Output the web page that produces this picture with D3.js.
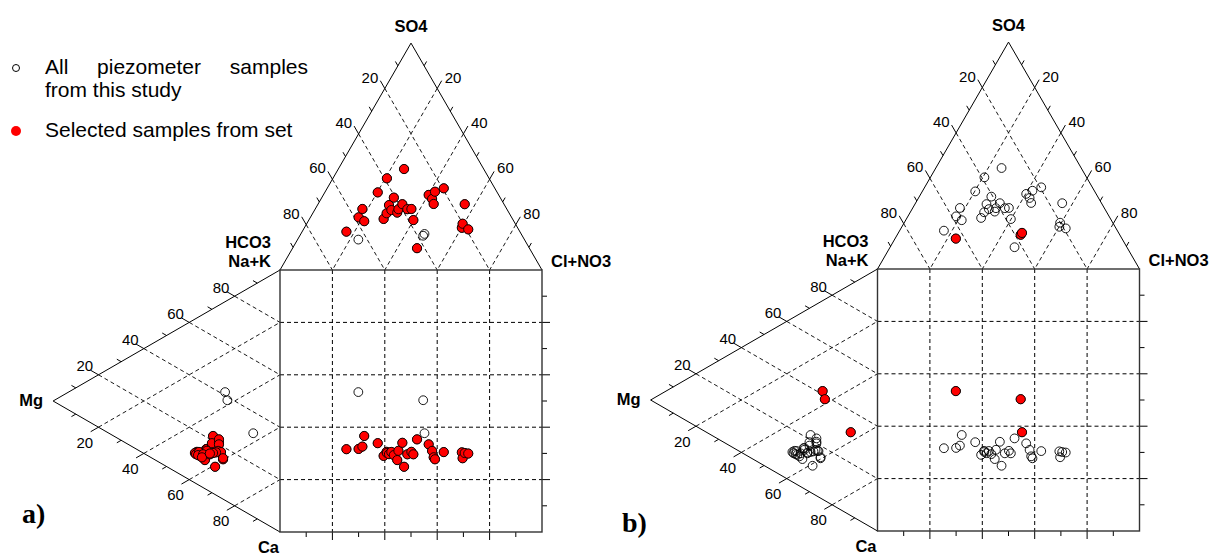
<!DOCTYPE html>
<html>
<head>
<meta charset="utf-8">
<script src="https://cdn.jsdelivr.net/npm/d3@7"></script>
<style>
  body { margin: 0; background: #fff; }
  svg { display: block; }
</style>
</head>
<body>
<svg id="chart" width="1211" height="557"></svg>
<script>
// sample chemistry in % meq/l
// anions: SO4, Cl+NO3 (HCO3 = rest) ; cations: Mg, Ca (Na+K = rest)
const so4   = [16.9, 23.2, 26.9, 21.5, 34.2, 22.5, 25.0, 40.4, 28.6, 26.4, 31.9, 25.3, 26.8, 29.0, 44.5, 26.8, 26.9, 22.0, 9.6, 33.1, 31.3, 29.1, 34.5, 36.0, 18.6, 20.4, 29.0, 17.9, 13.4, 15.1, 15.9];
const clno3 = [16.9, 18.4, 18.0, 21.4, 20.2, 28.3, 28.2, 20.6, 27.3, 29.3, 27.5, 32.1, 31.8, 32.2, 25.1, 35.2, 36.7, 39.9, 47.5, 40.2, 42.4, 44.1, 41.9, 44.5, 60.1, 59.5, 56.0, 62.9, 23.2, 47.1, 47.2];
const mg    = [32.6, 32.2, 30.0, 29.5, 30.0, 35.3, 36.6, 37.5, 37.0, 35.7, 36.1, 33.1, 32.2, 26.9, 28.6, 30.9, 26.4, 33.9, 26.9, 26.9, 27.3, 34.4, 25.1, 26.0, 28.2, 25.1, 29.5, 30.9, 24.2, 23.2, 11.8];
const ca    = [52.1, 52.2, 52.4, 48.6, 51.1, 53.3, 51.1, 51.1, 51.8, 51.6, 52.6, 56.0, 52.9, 52.5, 60.8, 54.9, 56.2, 53.4, 51.2, 53.1, 55.4, 54.3, 59.7, 56.5, 55.5, 59.3, 55.1, 54.6, 34.5, 38.1, 56.4];
// which set the sample belongs to (1 = highlighted in a, 2 = highlighted in b)
const group = [1,1,1,1,1,1,1,1,1,1,1,1,1,1,1,1,1,1,1,1,1,1,1,1,1,1,1,1, 2,2,2];

const gridTicks  = [20, 40, 60, 80];
const minorTicks = [10, 30, 50, 70, 90];
const legendLabels = ["All piezometer samples", "from this study", "Selected samples from set"];

const samples = so4.map((d, i) => ({so4: d, cl: clno3[i], mg: mg[i], ca: ca[i], group: group[i]}));

const panels = [
  {label: "a)", x0: 280,   y0: 270, side: 262, selected: 1, lx: 22, ly: 523},
  {label: "b)", x0: 877.5, y0: 269, side: 262, selected: 2, lx: 622, ly: 532}
];

const svg = d3.select("#chart");
svg.append("rect").attr("width", 1211).attr("height", 557).attr("fill", "#fff");

const sans = "'Liberation Sans', Arial, Helvetica, sans-serif";
const dash = "4,3";

function drawPanel(p) {
  const s = p.side, H = s * Math.sqrt(3) / 2;
  const x0 = p.x0, y0 = p.y0;
  const g = svg.append("g");

  const x = d3.scaleLinear().domain([0, 100]).range([x0, x0 + s]);      // across square
  const y = d3.scaleLinear().domain([0, 100]).range([y0, y0 + s]);      // down square
  const up = d3.scaleLinear().domain([0, 100]).range([y0, y0 - H]);     // SO4 height
  const left = d3.scaleLinear().domain([0, 100]).range([x0, x0 - H]);   // Mg distance

  const anion = (s4, cl) => [x(cl + s4 / 2), up(s4)];
  const cation = (m, c) => [left(m), y(c + m / 2)];

  // sides of the two triangles, with point at value t and outward direction
  const sides = [
    {pt: t => anion(100 - t, 0),     end: t => [x(100 - t), y0], dir: [-0.5, -0.866], anchor: "end",   dx: -2,  dy: 2},
    {pt: t => anion(100 - t, t),     end: t => [x(t), y0],       dir: [0.5, -0.866],  anchor: "start", dx: 3,   dy: 2},
    {pt: t => cation(100 - t, 0),    end: t => [x0, y(100 - t)], dir: [-0.866, -0.5], anchor: "end",   dx: 2.5, dy: 1},
    {pt: t => cation(100 - t, t),    end: t => [x0, y(t)],       dir: [-0.866, 0.5],  anchor: "end",   dx: 2.5, dy: 16}
  ];

  const grid = g.append("g").attr("fill", "none").attr("stroke", "#000").attr("stroke-width", 1);

  sides.forEach(sd => {
    gridTicks.forEach(t => {
      const a = sd.pt(t), b = sd.end(t);
      const e = [a[0] + sd.dir[0] * 9, a[1] + sd.dir[1] * 9];
      grid.append("line").attr("x1", a[0]).attr("y1", a[1]).attr("x2", b[0]).attr("y2", b[1])
        .attr("stroke-dasharray", dash).attr("stroke-width", 0.9);
      grid.append("line").attr("x1", a[0]).attr("y1", a[1]).attr("x2", e[0]).attr("y2", e[1]);
      g.append("text").attr("x", e[0] + sd.dx).attr("y", e[1] + sd.dy)
        .attr("text-anchor", sd.anchor).attr("font-family", sans).attr("font-size", 15)
        .text(t);
    });
    minorTicks.forEach(t => {
      const a = sd.pt(t);
      grid.append("line").attr("x1", a[0]).attr("y1", a[1])
        .attr("x2", a[0] + sd.dir[0] * 5).attr("y2", a[1] + sd.dir[1] * 5);
    });
  });

  // square grid
  gridTicks.forEach(t => {
    grid.append("line").attr("x1", x(t)).attr("y1", y0).attr("x2", x(t)).attr("y2", y0 + s)
      .attr("stroke-dasharray", dash);
    grid.append("line").attr("x1", x(t)).attr("y1", y0 + s).attr("x2", x(t)).attr("y2", y0 + s + 8);
    grid.append("line").attr("x1", x0).attr("y1", y(t)).attr("x2", x0 + s).attr("y2", y(t))
      .attr("stroke-dasharray", dash);
    grid.append("line").attr("x1", x0 + s).attr("y1", y(t)).attr("x2", x0 + s + 8).attr("y2", y(t));
  });
  minorTicks.forEach(t => {
    grid.append("line").attr("x1", x(t)).attr("y1", y0 + s).attr("x2", x(t)).attr("y2", y0 + s + 5);
    grid.append("line").attr("x1", x0 + s).attr("y1", y(t)).attr("x2", x0 + s + 5).attr("y2", y(t));
  });

  // outlines
  const apex = anion(100, 0), mgV = cation(100, 0);
  g.append("path")
    .attr("d", d3.line()([[x0, y0], apex, [x0 + s, y0]]))
    .attr("fill", "none").attr("stroke", "#000").attr("stroke-width", 1);
  g.append("path")
    .attr("d", d3.line()([[x0, y0], mgV, [x0, y0 + s]]))
    .attr("fill", "none").attr("stroke", "#000").attr("stroke-width", 1);
  g.append("rect").attr("x", x0).attr("y", y0).attr("width", s).attr("height", s)
    .attr("fill", "none").attr("stroke", "#333").attr("stroke-width", 1.4);

  // axis titles
  const bold = sel => sel.attr("font-family", sans).attr("font-size", 16.5).attr("font-weight", "bold");
  g.append("text").attr("x", apex[0]).attr("y", apex[1] - 11).attr("text-anchor", "middle").call(bold).text("SO4");
  g.append("text").attr("x", x0 + s + 9).attr("y", y0 - 3.5).call(bold).text("Cl+NO3");
  g.append("text").attr("x", x0 - 9).attr("y", y0 - 22.5).attr("text-anchor", "end").call(bold).text("HCO3");
  g.append("text").attr("x", x0 - 9).attr("y", y0 - 3.5).attr("text-anchor", "end").call(bold).text("Na+K");
  g.append("text").attr("x", mgV[0] - 10).attr("y", mgV[1] + 5).attr("text-anchor", "end").call(bold).text("Mg");
  g.append("text").attr("x", x0 - 1).attr("y", y0 + s + 21).attr("text-anchor", "end").call(bold).text("Ca");

  g.append("text").attr("x", p.lx).attr("y", p.ly)
    .attr("font-family", "'Liberation Serif', 'Times New Roman', serif")
    .attr("font-size", 28).attr("font-weight", "bold").text(p.label);

  // samples: all as open circles, the selected set in red on top
  const pos = [
    d => anion(d.so4, d.cl),
    d => cation(d.mg, d.ca),
    d => [x(d.cl + d.so4 / 2), y(d.ca + d.mg / 2)]
  ];
  const pts = g.append("g");
  pos.forEach(f => {
    pts.append("g").selectAll("circle").data(samples).join("circle")
      .attr("cx", d => f(d)[0]).attr("cy", d => f(d)[1]).attr("r", 4.4)
      .attr("fill", "none").attr("stroke", "#000").attr("stroke-width", 0.9);
  });
  pos.forEach(f => {
    pts.append("g").selectAll("circle").data(samples.filter(d => d.group === p.selected)).join("circle")
      .attr("cx", d => f(d)[0]).attr("cy", d => f(d)[1]).attr("r", 4.6)
      .attr("fill", "#ff0000").attr("stroke", "#000").attr("stroke-width", 0.9);
  });
}

panels.forEach(drawPanel);

// legend
const leg = svg.append("g").attr("font-family", sans).attr("font-size", 21);
leg.append("circle").attr("cx", 16).attr("cy", 68).attr("r", 3.5)
  .attr("fill", "none").attr("stroke", "#000").attr("stroke-width", 1);
const words = legendLabels[0].split(" ");
leg.append("text").attr("x", 45).attr("y", 73.5).text(words[0]);
leg.append("text").attr("x", 149).attr("y", 73.5).attr("text-anchor", "middle").text(words[1]);
leg.append("text").attr("x", 308).attr("y", 73.5).attr("text-anchor", "end").text(words[2]);
leg.append("text").attr("x", 45).attr("y", 97).text(legendLabels[1]);
leg.append("circle").attr("cx", 16).attr("cy", 131).attr("r", 5).attr("fill", "#ff0000");
leg.append("text").attr("x", 45).attr("y", 137).text(legendLabels[2]);
</script>
</body>
</html>
